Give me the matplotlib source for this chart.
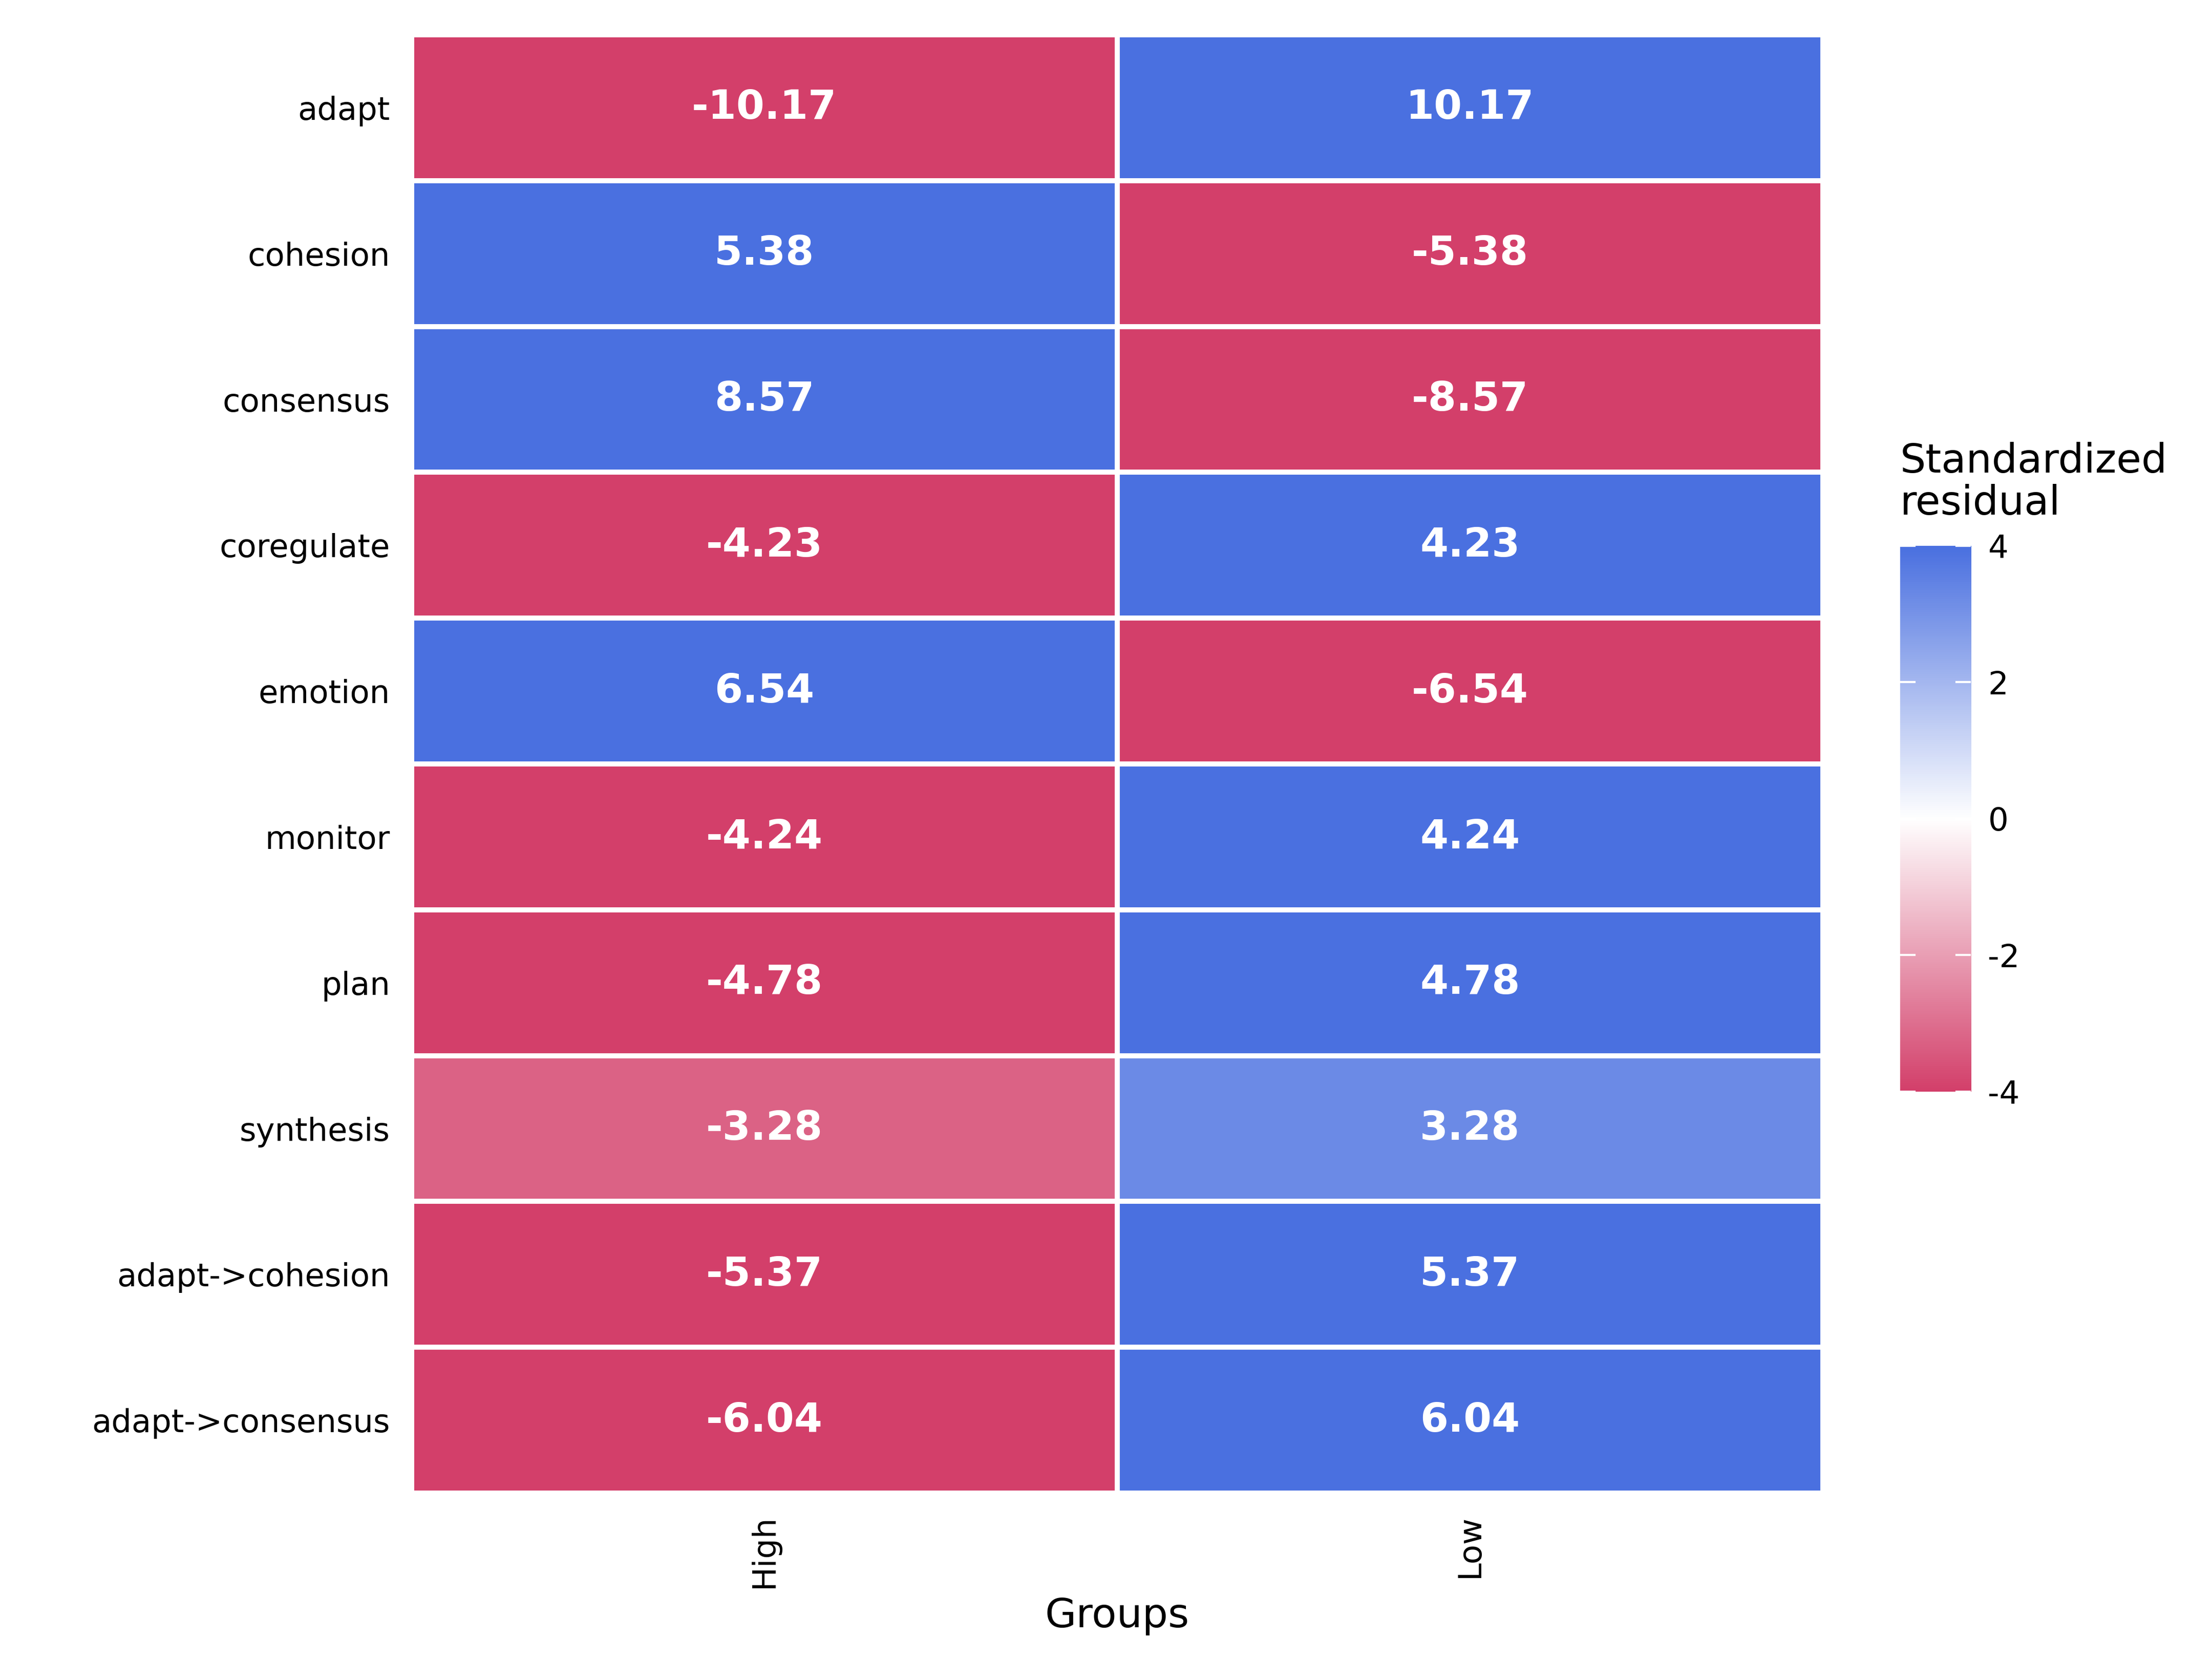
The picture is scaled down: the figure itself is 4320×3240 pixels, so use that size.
import matplotlib
matplotlib.use("Agg")
import matplotlib.pyplot as plt
import numpy as np
from matplotlib.colors import LinearSegmentedColormap, Normalize

rows = ['adapt', 'cohesion', 'consensus', 'coregulate', 'emotion', 'monitor',
        'plan', 'synthesis', 'adapt->cohesion', 'adapt->consensus']
groups = ['High', 'Low']
high = [-10.17, 5.38, 8.57, -4.23, 6.54, -4.24, -4.78, -3.28, -5.37, -6.04]
low = [10.17, -5.38, -8.57, 4.23, -6.54, 4.24, 4.78, 3.28, 5.37, 6.04]

vals = np.array([high, low]).T
cmap = LinearSegmentedColormap.from_list('res', ['#D33F6A', '#FFFFFF', '#4A70E0'])
norm = Normalize(vmin=-4, vmax=4, clip=True)

fig = plt.figure(figsize=(14.4, 10.8), dpi=300)
ax = fig.add_axes([0.186, 0.10, 0.638, 0.879])
ax.pcolormesh(vals, cmap=cmap, norm=norm, edgecolors='white', linewidth=2)
ax.set_xlim(0, 2)
ax.set_ylim(len(rows), 0)
for i in range(len(rows)):
    for j in range(2):
        ax.text(j + 0.5, i + 0.5, f'{vals[i, j]:.2f}', ha='center', va='center',
                color='white', fontsize=19, fontweight='bold')
ax.set_yticks(np.arange(len(rows)) + 0.5)
ax.set_yticklabels(rows, fontsize=15)
ax.set_xticks([0.5, 1.5])
ax.set_xticklabels(groups, rotation=90, fontsize=15)
ax.tick_params(length=0, pad=10)
ax.set_xlabel('Groups', fontsize=19)
for s in ax.spines.values():
    s.set_visible(False)

cax = fig.add_axes([0.859, 0.342, 0.032, 0.329])
grad = np.linspace(-4, 4, 256).reshape(-1, 1)
cax.imshow(grad, aspect='auto', cmap=cmap, norm=norm, origin='lower', extent=[0, 1, -4, 4])
cax.set_xticks([])
cax.yaxis.tick_right()
cax.set_yticks([-4, -2, 0, 2, 4])
cax.set_yticklabels(['-4', '-2', '0', '2', '4'], fontsize=15)
cax.tick_params(axis='y', length=0, pad=8)
for t in [-4, -2, 0, 2, 4]:
    cax.plot([0, 0.2], [t, t], color='white', lw=1)
    cax.plot([0.8, 1], [t, t], color='white', lw=1)
cax.set_xlim(0, 1)
cax.set_ylim(-4, 4)
for s in cax.spines.values():
    s.set_visible(False)
fig.text(0.859, 0.685, 'Standardized\nresidual', fontsize=19, ha='left', va='bottom',
         linespacing=1.1)

fig.savefig('out.png', dpi=300, facecolor='white')
